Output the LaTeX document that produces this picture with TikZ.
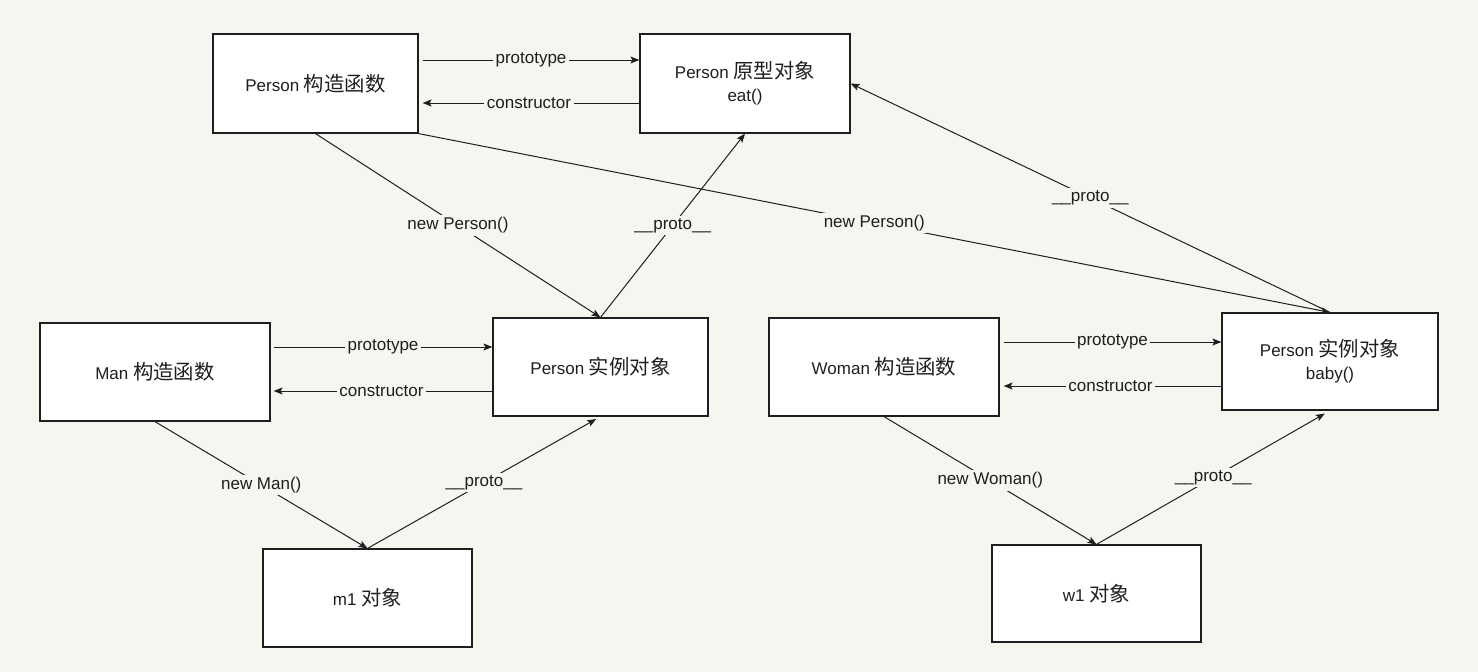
\documentclass[tikz,border=0pt]{standalone}
\usepackage{fontspec}
\setmainfont{Liberation Sans}
\newfontfamily\cjk{Noto Sans CJK SC}[Scale=1.2]
\usetikzlibrary{arrows.meta}
\definecolor{bgc}{RGB}{246,245,240}
\definecolor{ink}{RGB}{30,30,30}
\begin{document}
\begin{tikzpicture}[x=1pt,y=-1pt,
  box/.style={draw=ink,line width=1.2pt,fill=white,inner sep=0pt,align=center,
    font=\fontsize{17}{23}\selectfont,text=ink},
  arr/.style={draw=ink,line width=1pt,-{Stealth[length=9pt,width=7pt,inset=2pt]}},
  lbl/.style={fill=bgc,inner sep=2.5pt,font=\fontsize{17}{20}\selectfont,text=ink}]
\useasboundingbox[fill=bgc] (0,0) rectangle (1478,672);
% boxes
\node[box,minimum width=205pt,minimum height=99pt] (pc) at (315.5,83.5) {Person {\cjk 构造函数}};
\node[box,minimum width=210pt,minimum height=99pt] (po) at (745,83.5) {Person {\cjk 原型对象}\\eat()};
\node[box,minimum width=230pt,minimum height=98pt] (man) at (155,372) {Man {\cjk 构造函数}};
\node[box,minimum width=215pt,minimum height=98pt] (pia) at (600.5,367) {Person {\cjk 实例对象}};
\node[box,minimum width=230pt,minimum height=98pt] (woman) at (884,367) {Woman {\cjk 构造函数}};
\node[box,minimum width=216pt,minimum height=97pt] (pib) at (1330,361.5) {Person {\cjk 实例对象}\\baby()};
\node[box,minimum width=209pt,minimum height=98pt] (mo) at (367.5,598) {m1 {\cjk 对象}};
\node[box,minimum width=209pt,minimum height=97pt] (wo) at (1096.5,593.5) {w1 {\cjk 对象}};
% horizontal links
\coordinate (a1) at ([xshift=4pt,yshift=23.5pt]pc.east);
\draw[arr] (a1) -- node[lbl]{prototype} (a1 -| po.west);
\coordinate (a2) at ([yshift=-19.5pt]po.west);
\draw[arr,shorten >=4pt] (a2) -- node[lbl]{constructor} (a2 -| pc.east);
\coordinate (b1) at ([xshift=3pt,yshift=25pt]man.east);
\draw[arr] (b1) -- node[lbl]{prototype} (b1 -| pia.west);
\coordinate (b2) at ([yshift=-24pt]pia.west);
\draw[arr,shorten >=3pt] (b2) -- node[lbl]{constructor} (b2 -| man.east);
\coordinate (c1) at ([xshift=4pt,yshift=25pt]woman.east);
\draw[arr] (c1) -- node[lbl]{prototype} (c1 -| pib.west);
\coordinate (c2) at ([yshift=-24.5pt]pib.west);
\draw[arr,shorten >=4pt] (c2) -- node[lbl]{constructor} (c2 -| woman.east);
% diagonal links
\draw[arr] (pc.south) -- node[lbl]{new Person()} (pia.north);
\draw[arr] (pia.north) -- node[lbl]{\_\_proto\_\_} (po.south);
\draw[arr] (pc.south east) -- node[lbl]{new Person()} (pib.north);
\draw[arr] (pib.north) -- node[lbl]{\_\_proto\_\_} (po.east);
\draw[arr] (man.south) -- node[lbl]{new Man()} (mo.north);
\draw[arr,shorten >=5pt] (mo.north) -- node[lbl]{\_\_proto\_\_} (pia.south);
\draw[arr] (woman.south) -- node[lbl]{new Woman()} (wo.north);
\draw[arr,shorten >=6pt] (wo.north) -- node[lbl]{\_\_proto\_\_} (pib.south);
\end{tikzpicture}
\end{document}
